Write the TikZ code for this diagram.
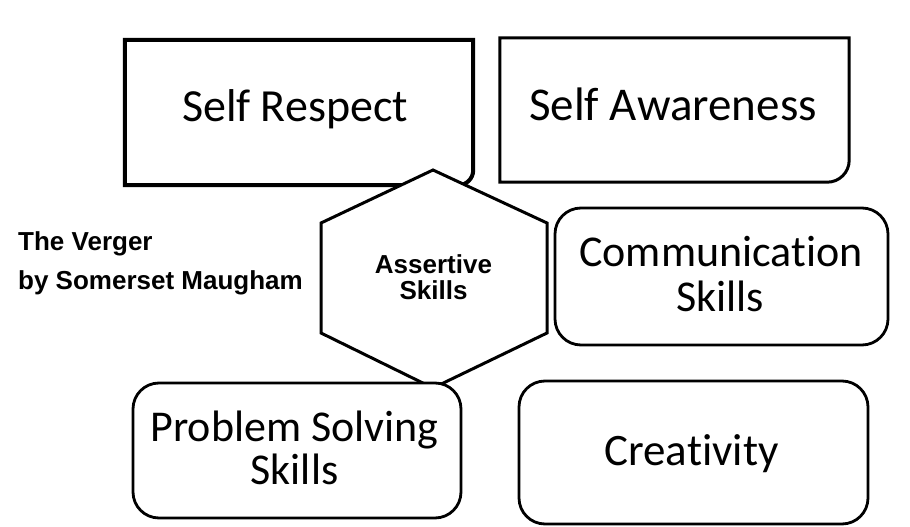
\documentclass[tikz,border=0pt]{standalone}
\usepackage{fontspec}
\setmainfont{Carlito}[Ligatures=NoCommon]
\newfontfamily\arialf{Liberation Sans}
\begin{document}
\begin{tikzpicture}[x=1pt,y=1pt,
  plainbox/.style={rectangle, inner sep=0pt, fill=white},
  rbox/.style={rectangle, rounded corners=26pt, draw=black, line width=2.8pt, fill=white, inner sep=0pt},
  lbl/.style={anchor=base, inner sep=0pt, font=\fontsize{44}{50}\selectfont},
  side/.style={anchor=base west, inner sep=0pt, font=\arialf\bfseries\fontsize{26}{30}\selectfont},
  hexlbl/.style={anchor=base, inner sep=0pt, font=\arialf\bfseries\fontsize{26}{30}\selectfont},
  hexline/.style={draw=black, line width=3pt, fill=white, line join=miter}]
\useasboundingbox (0,0) rectangle (910,527);
\fill[white] (0,0) rectangle (910,527);

% Self Respect
\node[plainbox, minimum width=348pt, minimum height=145pt] (sr) at (299,414.5) {};
\draw[line width=4pt] (sr.north west) -- (sr.north east) -- ([yshift=15pt]sr.south east)
  arc[start angle=0, end angle=-90, radius=15pt] -- (sr.south west) -- cycle;
\node[lbl, font=\fontsize{46}{52}\selectfont] (srt) at (295,405) {Self Respect};

% Self Awareness
\node[plainbox, minimum width=349pt, minimum height=144pt] (sa) at (674.5,417) {};
\draw[line width=3pt] (sa.north west) -- (sa.north east) -- ([yshift=22pt]sa.south east)
  arc[start angle=0, end angle=-90, radius=22pt] -- (sa.south west) -- cycle;
\node[lbl, font=\fontsize{47}{52}\selectfont] (sat) at (673,406) {Self Awareness};

% Assertive Skills hexagon
\coordinate (h1) at (433,357);
\coordinate (h2) at (547,304);
\coordinate (h3) at (547,194);
\coordinate (h4) at (433,139);
\coordinate (h5) at (321,194);
\coordinate (h6) at (321,304);
\path[hexline] (h1) -- (h2) -- (h3) -- (h4) -- (h5) -- (h6) -- cycle;
\node[hexlbl] (asa) at (433.5,253) {Assertive};
\node[hexlbl] (asb) at (433.5,227) {Skills};

% Problem Solving Skills
\node[rbox, minimum width=328pt, minimum height=135pt] (ps) at (297,76.5) {};
\node[lbl] (psa) at (294.5,85) {Problem Solving};
\node[lbl] (psb) at (294.5,42) {Skills};

% Communication Skills
\node[rbox, minimum width=333pt, minimum height=137pt] (cs) at (721.5,250.5) {};
\node[lbl] (csa) at (721,260) {Communication};
\node[lbl] (csb) at (720,215) {Skills};

% Creativity
\node[rbox, minimum width=349pt, minimum height=143pt] (cr) at (693.5,74.5) {};
\node[lbl, font=\fontsize{45}{50}\selectfont] (crt) at (691.5,61) {Creativity};

% Side title
\node[side] (t1) at (18,276) {The Verger};
\node[side] (t2) at (18,237) {by Somerset Maugham};
\end{tikzpicture}
\end{document}
